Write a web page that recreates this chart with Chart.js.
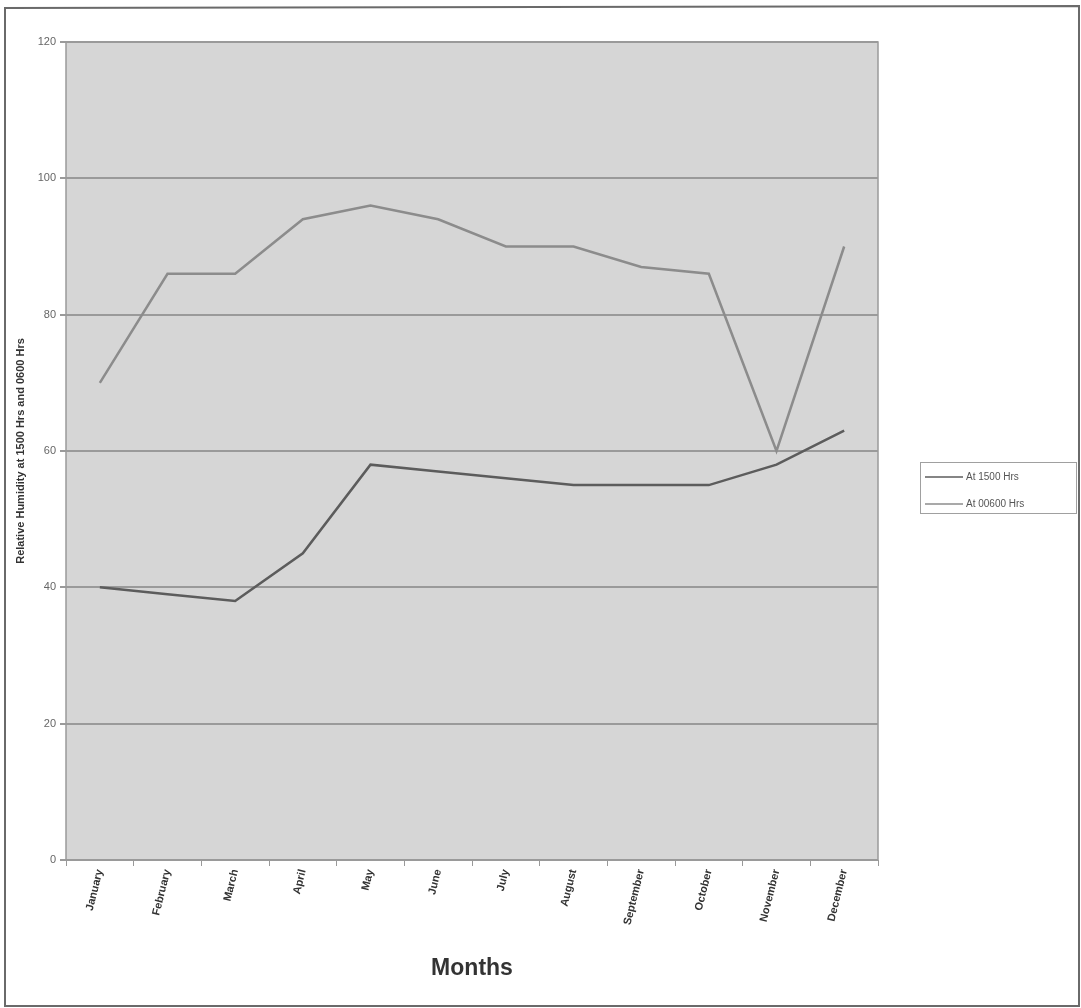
<!DOCTYPE html>
<html>
<head>
<meta charset="utf-8">
<script src="https://cdn.jsdelivr.net/npm/chart.js@4/dist/chart.umd.min.js"></script>
<style>
html,body{margin:0;padding:0;background:#fff;}
#wrap{position:relative;width:1081px;height:1008px;}
canvas{display:block;}
</style>
</head>
<body>
<div id="wrap"><canvas id="c" width="1081" height="1008"></canvas></div>
<script>
const months = ["January","February","March","April","May","June","July","August","September","October","November","December"];
const rh1500 = [40,39,38,45,58,57,56,55,55,55,58,63];
const rh0600 = [70,86,86,94,96,94,90,90,87,86,60,90];
const seriesNames = ["At 1500 Hrs","At 00600 Hrs"];
const seriesColors = ["#5c5c5c","#8c8c8c"];
const yTicks = [0,20,40,60,80,100,120];

const framePlugin = {
  id:'frame',
  beforeDraw(chart){
    const {ctx, chartArea:a} = chart;
    ctx.save();
    ctx.fillStyle='#fff';
    ctx.fillRect(0,0,chart.width,chart.height);
    // outer frame
    ctx.strokeStyle='#6a6a6a';
    ctx.lineWidth=2;
    ctx.beginPath();
    ctx.moveTo(5,1006); ctx.lineTo(5,8); ctx.lineTo(1079,6); ctx.lineTo(1079,1006); ctx.closePath();
    ctx.stroke();
    // plot background
    ctx.fillStyle='#d6d6d6';
    ctx.fillRect(a.left,a.top,a.right-a.left,a.bottom-a.top);
    ctx.restore();
  },
  afterDatasetsDraw(chart){
    const {ctx, chartArea:a} = chart;
    ctx.save();
    ctx.strokeStyle='#9a9a9a';
    ctx.lineWidth=1.5;
    ctx.strokeRect(a.left,a.top,a.right-a.left,a.bottom-a.top);
    // legend
    const lx=920, ly=462, lw=156, lh=51;
    ctx.fillStyle='#fff';
    ctx.fillRect(lx,ly,lw,lh);
    ctx.strokeStyle='#a0a0a0';
    ctx.lineWidth=1;
    ctx.strokeRect(lx+0.5,ly+0.5,lw,lh);
    ctx.font='10px "Liberation Sans", Arial, sans-serif';
    ctx.textBaseline='middle';
    ctx.textAlign='left';
    const rows=[477,504];
    seriesNames.forEach((n,i)=>{
      ctx.strokeStyle=seriesColors[i];
      ctx.lineWidth=1.5;
      ctx.beginPath(); ctx.moveTo(925,rows[i]); ctx.lineTo(963,rows[i]); ctx.stroke();
      ctx.fillStyle='#555';
      ctx.fillText(n,966,rows[i]);
    });
    ctx.restore();
  }
};

new Chart(document.getElementById('c'),{
  type:'line',
  data:{
    labels:months,
    datasets:[
      {label:seriesNames[0],data:rh1500,borderColor:seriesColors[0],borderWidth:2.5,pointRadius:0,tension:0,fill:false},
      {label:seriesNames[1],data:rh0600,borderColor:seriesColors[1],borderWidth:2.5,pointRadius:0,tension:0,fill:false}
    ]
  },
  options:{
    responsive:false,
    animation:false,
    devicePixelRatio:1,
    layout:{padding:{left:12,top:42,right:203,bottom:0}},
    plugins:{legend:{display:false},tooltip:{enabled:false}},
    scales:{
      x:{
        offset:true,
        afterFit(s){s.height=148;},
        grid:{display:true,drawOnChartArea:false,drawTicks:true,tickLength:6,offset:true,color:'#999'},
        border:{display:false},
        ticks:{minRotation:76,maxRotation:76,autoSkip:false,padding:2,color:'#333',font:{family:'"Liberation Sans", Arial, sans-serif',size:11,weight:'bold'}},
        title:{display:true,text:'Months',color:'#333',font:{family:'"Liberation Sans", Arial, sans-serif',size:23,weight:'bold'},padding:{top:0,bottom:26}}
      },
      y:{
        min:0,max:120,
        afterFit(s){s.width=54;},
        afterBuildTicks(s){s.ticks=yTicks.map(v=>({value:v}));},
        grid:{color:'#9a9a9a',lineWidth:2,tickLength:6,drawTicks:true},
        border:{display:false},
        ticks:{color:'#666',padding:4,font:{family:'"Liberation Sans", Arial, sans-serif',size:11}},
        title:{display:true,text:'Relative Humidity at 1500 Hrs and 0600 Hrs',color:'#333',font:{family:'"Liberation Sans", Arial, sans-serif',size:11,weight:'bold'},padding:{top:2,bottom:0}}
      }
    }
  },
  plugins:[framePlugin]
});
</script>
</body>
</html>
